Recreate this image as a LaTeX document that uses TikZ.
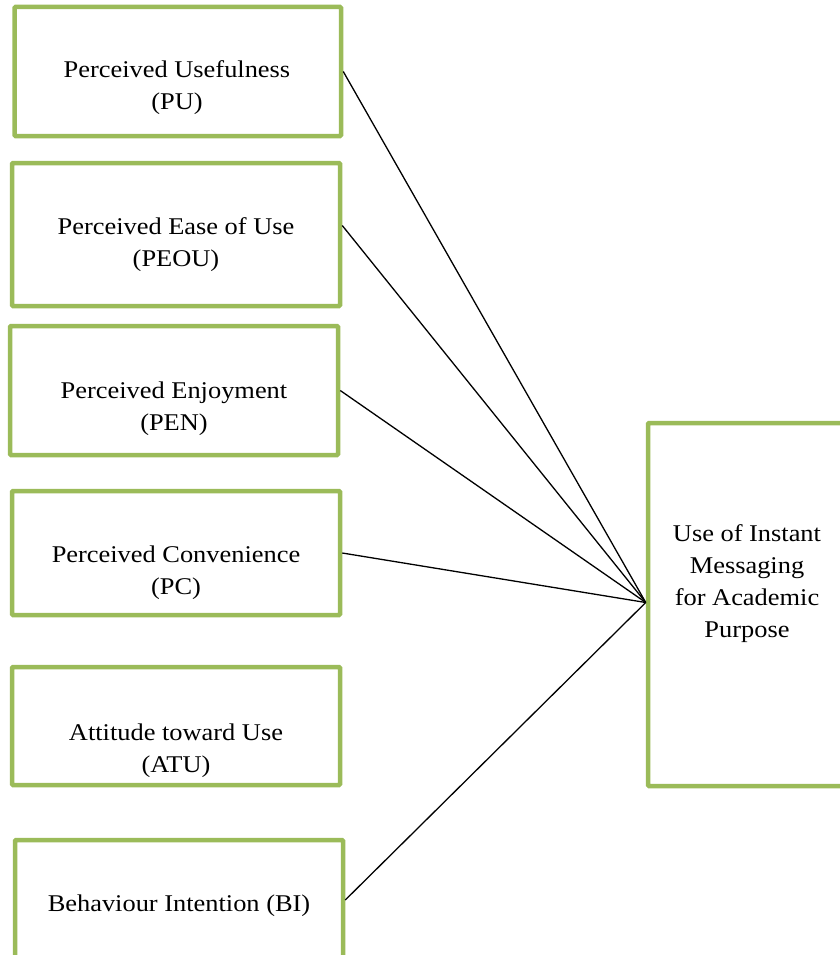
\documentclass[tikz,border=0pt]{standalone}
\usepackage{fontspec}
\setmainfont{Liberation Serif}[FakeStretch=1.1]
\definecolor{boxgreen}{RGB}{155,187,89}
\begin{document}
\begin{tikzpicture}[x=1pt,y=-1pt,
  gbox/.style={draw=boxgreen,line width=4.5pt,rounded corners=1pt,inner sep=0pt,fill=none},
  lbl/.style={align=center,inner sep=0pt,anchor=base,font=\fontsize{24}{32}\selectfont},
  link/.style={draw=black,line width=1.3pt}]
\useasboundingbox (0,0) rectangle (839,955);
\node[gbox,minimum width=326.5pt,minimum height=129pt] (pu) at (177.75,71.5) {};
\node[gbox,minimum width=328pt,minimum height=143pt] (peou) at (176,234.5) {};
\node[gbox,minimum width=328pt,minimum height=129pt] (pen) at (174,390.5) {};
\node[gbox,minimum width=328pt,minimum height=124pt] (pc) at (176,553) {};
\node[gbox,minimum width=328pt,minimum height=118pt] (atu) at (176,726) {};
\node[gbox,minimum width=328pt,minimum height=120pt] (bi) at (179,900) {};
\node[gbox,minimum width=198pt,minimum height=363pt] (big) at (747,604.5) {};

\node[lbl] (puT) at (177,110) {Perceived Usefulness\\(PU)};
\node[lbl] (peouT) at (176,266) {Perceived Ease of Use\\(PEOU)};
\node[lbl] (penT) at (174,430) {Perceived Enjoyment\\(PEN)};
\node[lbl] (pcT) at (176,594) {Perceived Convenience\\(PC)};
\node[lbl] (atuT) at (176,772) {Attitude toward Use\\(ATU)};
\node[lbl] (biT) at (179,911) {Behaviour Intention (BI)};
\node[lbl] (bigT) at (747,637) {Use of Instant\\Messaging\\for Academic\\Purpose};

\coordinate (hub) at ([yshift=2pt]big.west);
\draw[link] (pu.east) -- (hub);
\draw[link] ([yshift=9pt]peou.east) -- (hub);
\draw[link] (pen.east) -- (hub);
\draw[link] (pc.east) -- (hub);
\draw[link] (bi.east) -- (hub);
\end{tikzpicture}
\end{document}
